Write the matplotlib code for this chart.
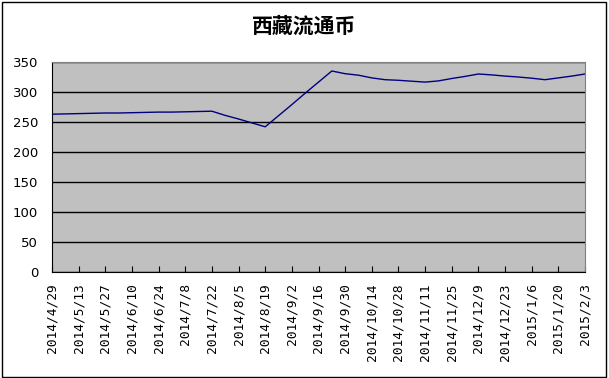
import matplotlib.pyplot as plt
from matplotlib.patches import Rectangle

plt.rcParams['font.family'] = ['Noto Sans CJK SC', 'DejaVu Sans']

# weekly series, 2014/4/29 .. 2015/2/3 (41 points), labels every 2nd week
values = [263, 263.5, 264, 264.5, 265, 265, 265.5, 266, 266.5, 266.5,
          267, 267.5, 268, 261, 255, 248.5, 242, 260.5, 279, 298,
          316.5, 335, 330.5, 328, 323.5, 320.5, 319.5, 318, 316.5, 318.5,
          322.5, 326, 330, 328.5, 326.5, 325, 323, 320.5, 323.5, 326.5, 330]
tick_labels = ['2014/4/29', '2014/5/13', '2014/5/27', '2014/6/10', '2014/6/24',
               '2014/7/8', '2014/7/22', '2014/8/5', '2014/8/19', '2014/9/2',
               '2014/9/16', '2014/9/30', '2014/10/14', '2014/10/28', '2014/11/11',
               '2014/11/25', '2014/12/9', '2014/12/23', '2015/1/6', '2015/1/20',
               '2015/2/3']
yticks = [0, 50, 100, 150, 200, 250, 300, 350]

W, H = 609, 378
fig = plt.figure(figsize=(W / 100, H / 100), dpi=100)
fig.patches.append(Rectangle((2 / W, 1.5 / H), 604 / W, 374.5 / H, transform=fig.transFigure,
                             fill=False, edgecolor='black', linewidth=1))

ax = fig.add_axes([52 / W, (H - 272) / H, 533 / W, 210 / H])
ax.set_facecolor('#C0C0C0')
x = list(range(len(values)))
ax.plot(x, values, color='#000080', linewidth=1)

ax.set_xlim(0, len(values) - 1)
ax.set_ylim(0, 350)
ax.set_yticks(yticks)
ax.set_xticks(range(0, len(values), 2))
ax.set_xticklabels(tick_labels, rotation=90, fontsize=9.3, family='DejaVu Sans Mono')
ax.set_yticklabels([str(v) for v in yticks], fontsize=9.5, family='DejaVu Sans')
ax.tick_params(axis='x', direction='in', length=4, pad=8)
ax.tick_params(axis='y', length=0, pad=10)
ax.grid(axis='y', color='black', linewidth=1)
ax.set_axisbelow(True)
for s in ['top', 'right']:
    ax.spines[s].set_color('#808080')

fig.text(304 / W, 1 - 26 / H, '西藏流通币', ha='center', va='center',
         fontsize=15, fontweight='bold')

fig.savefig('out.png', dpi=100)
